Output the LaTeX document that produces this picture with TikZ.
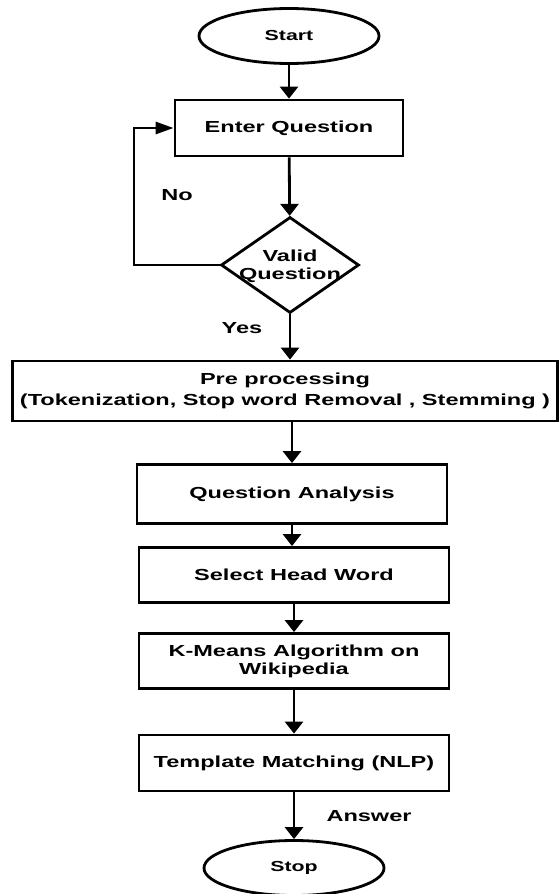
\documentclass[tikz,border=0pt]{standalone}
\usepackage{fontspec}
\setmainfont{Liberation Sans}[FakeStretch=1.47]
\usetikzlibrary{shapes.geometric,arrows.meta}

\begin{document}
\begin{tikzpicture}[x=1pt,y=-1pt,
        font=\bfseries\fontsize{16}{22}\selectfont,
        line width=2.8pt,
        process/.style={draw, rectangle, minimum width=310, minimum height=56, align=center, inner sep=0},
        terminal/.style={draw, ellipse, minimum width=180, minimum height=55, inner sep=0, font=\bfseries\fontsize{14.5}{18}\selectfont},
        decision/.style={draw, diamond, minimum width=138, minimum height=96, inner sep=0},
        flow/.style={-{Triangle[length=12pt,width=18pt]}},
        back/.style={-{Triangle[length=18pt,width=12pt]}}]

        \useasboundingbox (0,0) rectangle (558,894);

        \node [terminal] (start) at (289,36) {Start};
        \node [process, minimum width=228] (enter) at (289,128) {Enter Question};
        \node [decision] (valid) at (290,265) {};
        \node (validtext) at (290,266) [align=center, inner sep=0] {Valid\\[-4pt]Question};
        \node [process, minimum width=545, minimum height=60] (pre) at (285,391) {Pre processing\\[-1pt](Tokenization, Stop word Removal , Stemming )};
        \node [process, minimum height=59] (analysis) at (292,494) {Question Analysis};
        \node [process, minimum height=55] (head) at (294,575) {Select Head Word};
        \node [process, minimum height=55] (kmeans) at (294,661) {K-Means Algorithm on\\[-4pt]Wikipedia};
        \node [process, minimum height=56] (template) at (294,763) {Template Matching (NLP)};
        \node [terminal, minimum height=55] (stop) at (294,868) {Stop};

        \node (no) at (177,195) {No};
        \node (yes) at (242,328) {Yes};
        \node (answer) at (369,816) {Answer};

        \coordinate (loop) at (134,128);

        \draw[flow] (start) -- (enter);
        \draw[flow] (enter) -- (valid);
        \draw[back] (valid.west) -| (loop) -- (enter.west);
        \draw[flow] (valid.south) -- (valid.south |- pre.north);
        \draw[flow] (pre.south -| analysis) -- (analysis);
        \draw[flow] (analysis) -- (analysis |- head.north);
        \draw[flow] (head) -- (kmeans);
        \draw[flow] (kmeans) -- (template);
        \draw[flow] (template) -- (stop);

    \end{tikzpicture}
\end{document}
